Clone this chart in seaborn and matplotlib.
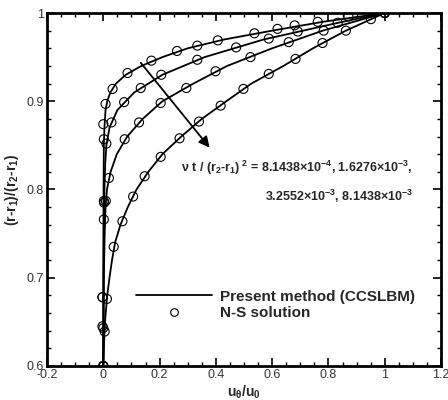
import numpy as np
import pandas as pd
import matplotlib
matplotlib.use("Agg")
import matplotlib.pyplot as plt
from matplotlib.lines import Line2D
from matplotlib.ticker import MultipleLocator
import seaborn as sns

# times nu*t/(r2-r1)^2
cases = ["8.1438e-4", "1.6276e-3", "3.2552e-3", "8.1438e-3"]

# present method (CCSLBM) lines
line_y1 = [0.6, 0.7, 0.8, 0.85, 0.87, 0.89, 0.90, 0.91, 0.92, 0.93, 0.94, 0.95, 0.96, 0.97, 0.98, 0.99, 1.0]
line_u1 = [0.0, 0.0, 0.001, 0.002, 0.004, 0.008, 0.014, 0.025, 0.045, 0.08, 0.135, 0.21, 0.30, 0.43, 0.60, 0.78, 1.0]
line_y2 = [0.6, 0.7, 0.75, 0.8, 0.83, 0.85, 0.87, 0.89, 0.91, 0.93, 0.95, 0.97, 0.99, 1.0]
line_u2 = [0.0, 0.001, 0.002, 0.004, 0.007, 0.011, 0.022, 0.050, 0.11, 0.21, 0.36, 0.57, 0.85, 1.0]
line_y3 = [0.6, 0.65, 0.7, 0.75, 0.78, 0.80, 0.82, 0.84, 0.86, 0.88, 0.90, 0.92, 0.94, 0.96, 0.98, 1.0]
line_u3 = [0.0, 0.001, 0.002, 0.005, 0.008, 0.013, 0.026, 0.048, 0.085, 0.14, 0.21, 0.32, 0.44, 0.60, 0.78, 1.0]
line_y4 = [0.6, 0.62, 0.65, 0.68, 0.70, 0.72, 0.74, 0.76, 0.78, 0.80, 0.82, 0.84, 0.86, 0.88, 0.90, 0.92, 0.94, 0.96, 0.98, 1.0]
line_u4 = [0.0, 0.002, 0.006, 0.014, 0.022, 0.031, 0.042, 0.061, 0.087, 0.118, 0.16, 0.21, 0.277, 0.35, 0.437, 0.526, 0.64, 0.745, 0.862, 1.0]

# N-S solution (circles)
ns_y1 = [0.6, 0.643, 0.678, 0.766, 0.787, 0.857, 0.874, 0.897, 0.914, 0.932, 0.946, 0.957, 0.963, 0.969, 0.977, 0.982, 0.986, 0.990, 0.996, 1.0]
ns_u1 = [0.0, 0.0, -0.003, 0.002, 0.002, 0.002, 0.0, 0.008, 0.033, 0.086, 0.171, 0.262, 0.334, 0.407, 0.537, 0.619, 0.680, 0.762, 0.871, 1.0]
ns_y2 = [0.6, 0.645, 0.785, 0.852, 0.876, 0.899, 0.915, 0.930, 0.947, 0.961, 0.971, 0.979, 0.989, 1.0]
ns_u2 = [0.0, -0.003, 0.003, 0.011, 0.029, 0.074, 0.133, 0.206, 0.334, 0.472, 0.588, 0.691, 0.833, 1.0]
ns_y3 = [0.6, 0.678, 0.787, 0.813, 0.857, 0.876, 0.898, 0.915, 0.934, 0.950, 0.967, 0.980, 0.993, 1.0]
ns_u3 = [0.0, -0.003, 0.009, 0.020, 0.076, 0.127, 0.204, 0.295, 0.399, 0.523, 0.659, 0.783, 0.951, 1.0]
ns_y4 = [0.6, 0.639, 0.676, 0.735, 0.764, 0.792, 0.815, 0.837, 0.858, 0.877, 0.895, 0.914, 0.931, 0.948, 0.966, 0.980, 1.0]
ns_u4 = [0.0, 0.005, 0.013, 0.037, 0.068, 0.106, 0.147, 0.204, 0.271, 0.340, 0.417, 0.498, 0.588, 0.683, 0.779, 0.862, 1.0]

x_ticks = [-0.2, 0, 0.2, 0.4, 0.6, 0.8, 1, 1.2]
x_ticklabels = ["-0.2", "0", "0.2", "0.4", "0.6", "0.8", "1", "1.2"]
y_ticks = [0.6, 0.7, 0.8, 0.9, 1.0]
y_ticklabels = ["0.6", "0.7", "0.8", "0.9", "1"]

# long tables for seaborn
lines = pd.concat([
    pd.DataFrame({"u": u, "y": y, "case": c})
    for u, y, c in zip([line_u1, line_u2, line_u3, line_u4],
                       [line_y1, line_y2, line_y3, line_y4], cases)
], ignore_index=True)
ns = pd.concat([
    pd.DataFrame({"u": u, "y": y, "case": c})
    for u, y, c in zip([ns_u1, ns_u2, ns_u3, ns_u4],
                       [ns_y1, ns_y2, ns_y3, ns_y4], cases)
], ignore_index=True)

sns.set_theme(style="ticks")
plt.rcParams["font.family"] = ["Liberation Sans", "DejaVu Sans"]
plt.rcParams["mathtext.fontset"] = "custom"
plt.rcParams["mathtext.rm"] = "Liberation Sans:bold"
plt.rcParams["mathtext.bf"] = "Liberation Sans:bold"
plt.rcParams["mathtext.it"] = "Liberation Sans:bold"
plt.rcParams["mathtext.default"] = "bf"
plt.rcParams["axes.unicode_minus"] = False

fig = plt.figure(figsize=(4.48, 4.0), dpi=100)
ax = fig.add_axes([47 / 448, 1 - 366 / 400, 394 / 448, 353 / 400])

# lines
sns.lineplot(data=lines, x="u", y="y", units="case", estimator=None, sort=False,
             color="black", lw=1.3, ax=ax, legend=False)
# circles
sns.scatterplot(data=ns, x="u", y="y", marker="o", s=42, facecolor="none",
                edgecolor="black", linewidth=0.8, ax=ax, legend=False, zorder=3)

ax.set_xlim(-0.2, 1.2)
ax.set_ylim(0.6, 1.0)
ax.set_xticks(x_ticks)
ax.set_xticklabels(x_ticklabels)
ax.set_yticks(y_ticks)
ax.set_yticklabels(y_ticklabels)
ax.xaxis.set_minor_locator(MultipleLocator(0.05))
ax.yaxis.set_minor_locator(MultipleLocator(0.02))
ax.tick_params(which="both", direction="in", top=True, right=True, color="black",
               labelsize=9, labelcolor="#333333", pad=2)
ax.tick_params(which="major", length=6, width=1.2)
ax.tick_params(which="minor", length=3, width=1.0)
for sp in ax.spines.values():
    sp.set_linewidth(2)
    sp.set_color("black")
ax.grid(False)

ax.set_xlabel(r"u$_{\theta}$/u$_0$", fontsize=10, fontweight="bold", labelpad=2)
ax.set_ylabel(r"(r-r$_1$)/(r$_2$-r$_1$)", fontsize=10, fontweight="bold", labelpad=4)

# arrow showing increasing time
ax.annotate("", xy=(0.384, 0.845), xytext=(0.127, 0.946),
            arrowprops=dict(arrowstyle="-|>", color="black", lw=1.3,
                            mutation_scale=16))

ax.text(1.1, 0.8245,
        r"ν t / (r$_2$-r$_1$)$^{\ 2}$ = 8.1438×10$^{-4}$, 1.6276×10$^{-3}$,",
        fontsize=9, fontweight="bold", ha="right", va="center")
ax.text(1.1, 0.7925, r"3.2552×10$^{-3}$, 8.1438×10$^{-3}$",
        fontsize=9, fontweight="bold", ha="right", va="center")

handles = [Line2D([], [], color="black", lw=1.3),
           Line2D([], [], ls="none", marker="o", markersize=5.5, mfc="none",
                  mec="black", mew=0.8)]
ax.legend(handles, ["Present method (CCSLBM)", "N-S solution"],
          loc="upper left", bbox_to_anchor=(0.19, 0.255), frameon=False,
          handlelength=5, handletextpad=0.5, labelspacing=0.15,
          prop={"weight": "bold", "size": 11})

fig.savefig("out.png", dpi=100)
